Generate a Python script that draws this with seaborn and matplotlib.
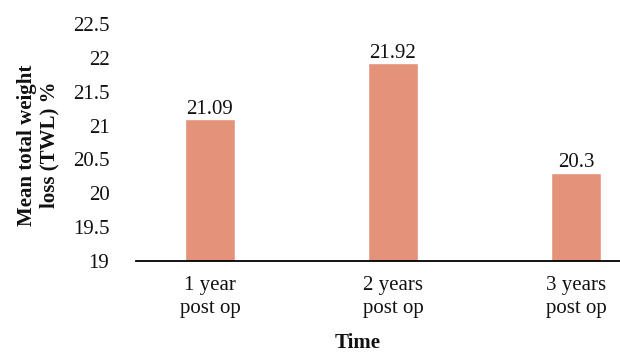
import matplotlib
matplotlib.use("Agg")
import matplotlib.pyplot as plt
import seaborn as sns
import pandas as pd

categories = ["1 year\npost op", "2 years\npost op", "3 years\npost op"]
mean_twl = [21.09, 21.92, 20.3]
value_labels = ["21.09", "21.92", "20.3"]
y_ticks = [19, 19.5, 20, 20.5, 21, 21.5, 22, 22.5]
y_tick_labels = ["19", "19.5", "20", "20.5", "21", "21.5", "22", "22.5"]

sns.set_theme(style="white")
plt.rcParams["font.family"] = ["Liberation Serif", "DejaVu Serif"]

df = pd.DataFrame({"Time": categories, "TWL": mean_twl})

fig = plt.figure(figsize=(6.2, 3.52), dpi=100)
ax = fig.add_axes([0.219, 0.2585, 0.781, 0.6735])

sns.barplot(data=df, x="Time", y="TWL", color="#E4937A", saturation=1,
            width=0.274, ax=ax)

ax.set_ylim(19, 22.5)
ax.set_xlim(-0.405, 2.24)
ax.set_yticks(y_ticks)
ax.set_yticklabels(y_tick_labels)
ax.tick_params(axis="y", length=0, pad=19, labelsize=15, colors="#111111")
ax.tick_params(axis="x", length=0, pad=11, labelsize=15, colors="#111111")
for lbl in ax.get_xticklabels():
    lbl.set_linespacing(1.3)

for side in ["top", "right", "left"]:
    ax.spines[side].set_visible(False)
ax.spines["bottom"].set_color("#000000")
ax.spines["bottom"].set_linewidth(1.3)

for i, (v, t) in enumerate(zip(mean_twl, value_labels)):
    ax.text(i, v + 0.01, t, ha="center", va="bottom", fontsize=15, color="#111111")

ax.set_xlabel("Time", fontsize=15, fontweight="bold", color="#111111")
ax.xaxis.set_label_coords((358 - 136) / (620 - 136), -0.305)
ax.set_ylabel("Mean total weight\nloss (TWL) %", fontsize=15, fontweight="bold",
              color="#111111", linespacing=1.15)
ax.yaxis.set_label_coords(-0.158, 0.49)

fig.savefig("out.png", dpi=100)
